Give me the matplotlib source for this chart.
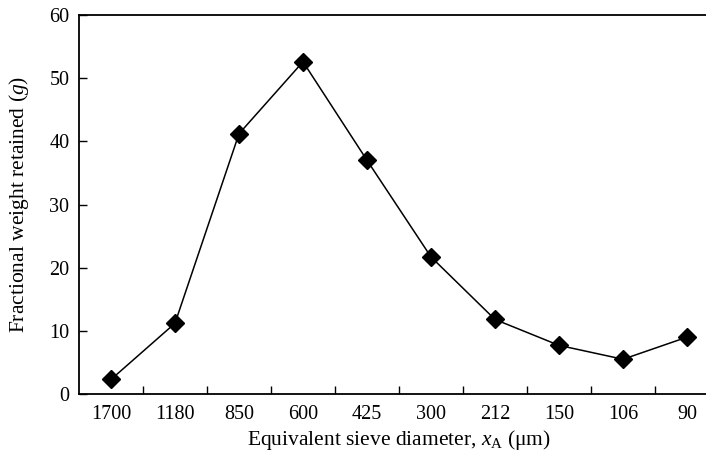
import matplotlib
matplotlib.use("Agg")
import matplotlib.pyplot as plt
import numpy as np

# Sieve analysis: weight retained on each sieve
sieve_sizes = ["1700", "1180", "850", "600", "425", "300", "212", "150", "106", "90"]
weight_retained = [2.3, 11.2, 41.2, 52.6, 37.0, 21.7, 11.8, 7.7, 5.5, 9.0]
y_ticks = [0, 10, 20, 30, 40, 50, 60]

plt.rcParams["font.family"] = ["Liberation Serif", "DejaVu Serif"]
plt.rcParams["mathtext.fontset"] = "custom"
plt.rcParams["mathtext.rm"] = "Liberation Serif"
plt.rcParams["mathtext.it"] = "Liberation Serif:italic"

W, H = 706, 459
fig = plt.figure(figsize=(W / 100, H / 100), dpi=100)
left, right, top, bottom = 79, 719, 15, 394
ax = fig.add_axes([left / W, 1 - bottom / H, (right - left) / W, (bottom - top) / H])

x = np.arange(len(sieve_sizes))
ax.plot(x, weight_retained, color="black", lw=1.1, marker="D", ms=9,
        markerfacecolor="black", markeredgecolor="black")

ax.set_xlim(-0.5, len(sieve_sizes) - 0.5)
ax.set_ylim(0, 60)
ax.set_yticks(y_ticks)
ax.set_xticks(x)
ax.set_xticklabels(sieve_sizes)
ax.set_xticks(np.arange(0.5, len(sieve_sizes) - 0.5, 1), minor=True)

ax.tick_params(axis="x", which="major", length=0, pad=8, labelsize=14.5)
ax.tick_params(axis="x", which="minor", direction="in", length=6, width=1.0)
ax.tick_params(axis="y", direction="in", length=6, width=1.0, pad=7, labelsize=14.5)

for s in ["left", "bottom", "top"]:
    ax.spines[s].set_linewidth(1.3)
ax.spines["right"].set_visible(False)

ax.set_ylabel("Fractional weight retained ($g$)", fontsize=15.5, labelpad=13)
ax.set_xlabel("Equivalent sieve diameter, $x_\\mathrm{A}$ (μm)", fontsize=15.5, labelpad=3)

fig.savefig("out.png", dpi=100)
